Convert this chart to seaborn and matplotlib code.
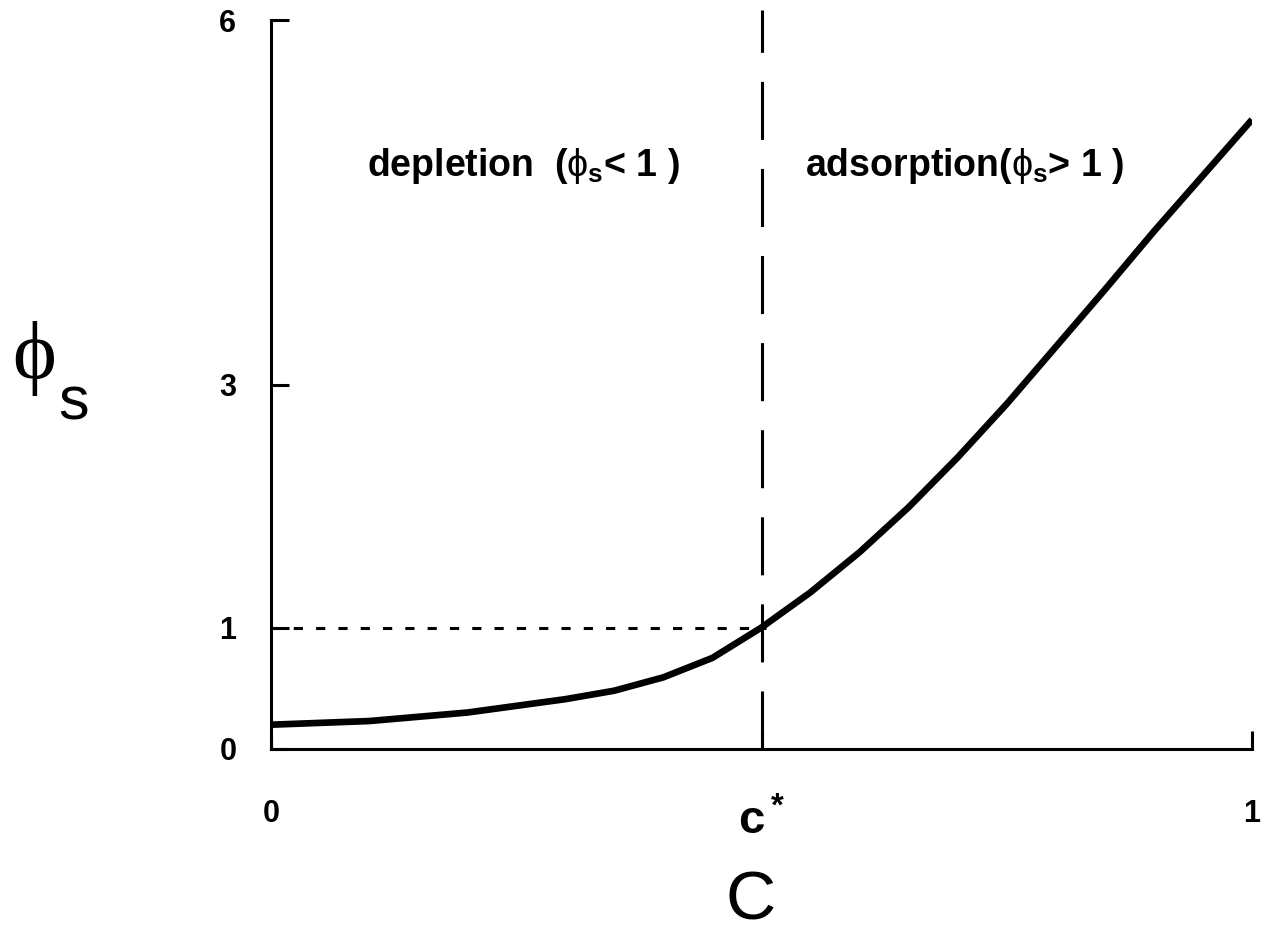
import matplotlib
matplotlib.use("Agg")
import matplotlib.pyplot as plt
import pandas as pd
import seaborn as sns

# curve: surface volume fraction vs concentration
conc = [0.0, 0.1, 0.2, 0.3, 0.35, 0.4, 0.45, 0.5, 0.55, 0.6, 0.65, 0.7,
        0.75, 0.8, 0.85, 0.9, 0.95, 1.0]
phi_s = [0.20, 0.23, 0.30, 0.41, 0.48, 0.59, 0.75, 1.00, 1.29, 1.62, 1.99, 2.40,
         2.84, 3.31, 3.78, 4.26, 4.72, 5.18]

c_star = 0.5
y_ticks = [0, 1, 3, 6]
x_ticks = [0, c_star, 1]
x_tick_labels = ["0", "c$^*$", "1"]
region_labels = [r"depletion  ($\phi_\mathbf{s}$< 1 )", r"adsorption($\phi_\mathbf{s}$> 1 )"]
region_x = [0.098, 0.544]

sns.set_theme(style="white")
plt.rcParams["font.family"] = ["Liberation Sans", "DejaVu Sans"]
plt.rcParams["mathtext.fontset"] = "custom"
plt.rcParams["mathtext.rm"] = "Liberation Sans:bold"
plt.rcParams["mathtext.bf"] = "Liberation Sans:bold"
plt.rcParams["mathtext.it"] = "Liberation Sans"
for key in ["text.color", "axes.labelcolor", "xtick.color", "ytick.color"]:
    plt.rcParams[key] = "black"

fig = plt.figure(figsize=(12.72, 9.33), dpi=100)
ax = fig.add_axes([271 / 1272, 1 - 749 / 933, 981 / 1272, 729 / 933])

df = pd.DataFrame({"c": conc, "phi": phi_s})
sns.lineplot(data=df, x="c", y="phi", ax=ax, color="black", linewidth=4.8,
             solid_joinstyle="round", solid_capstyle="butt")

ax.plot([c_star, c_star], [0, 6.08], color="black", linewidth=2.2,
        dashes=(19, 9.5), clip_on=False)
ax.plot([0, c_star + 0.005], [1, 1], color="black", linewidth=2.2,
        dashes=(3, 4.3))

ax.set_xlim(0, 1)
ax.set_ylim(0, 6)
sns.despine(ax=ax)
for side in ["left", "bottom"]:
    ax.spines[side].set_linewidth(2.2)
    ax.spines[side].set_color("black")

ax.set_yticks(y_ticks)
ax.set_yticklabels([str(v) for v in y_ticks], fontsize=22, fontweight="bold")
ax.set_xticks(x_ticks)
ax.set_xticklabels(x_tick_labels, fontsize=22, fontweight="bold")
ax.get_xticklabels()[1].set_fontsize(34)
ax.tick_params(axis="both", direction="in", length=13, width=2.2, color="black",
               left=True, bottom=True)
ax.tick_params(axis="y", pad=25)
ax.tick_params(axis="x", pad=36)
ax.set_xlabel("")
ax.set_ylabel("")

for label, xpos in zip(region_labels, region_x):
    ax.text(xpos, 4.72, label, fontsize=27, fontweight="bold", va="baseline")

fig.text(751 / 1272, 1 - 902 / 933, "C", fontsize=50, ha="center", va="center")
fig.text(34 / 1272, 1 - 358 / 933, "\u03d5", fontsize=60, ha="center", va="center",
         family=["Liberation Serif", "DejaVu Serif"])
fig.text(74 / 1272, 1 - 404 / 933, "s", fontsize=44, ha="center", va="center")

fig.savefig("out.png", dpi=100)
